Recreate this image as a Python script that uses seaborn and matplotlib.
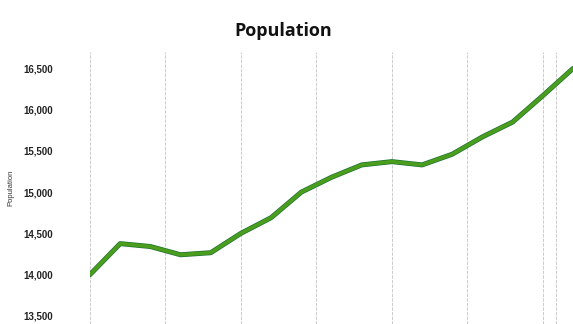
import numpy as np
import pandas as pd
import seaborn as sns
import matplotlib
matplotlib.use("Agg")
import matplotlib.pyplot as plt
import matplotlib.patheffects as pe

# Data
steps = list(range(17))
population = [14000, 14375, 14340, 14240, 14265, 14500, 14690, 15000, 15180,
              15330, 15370, 15330, 15460, 15670, 15850, 16170, 16500]
y_ticks = [13500, 14000, 14500, 15000, 15500, 16000, 16500]
grid_x = [0, 2.5, 5, 7.5, 10, 12.5, 15, 15.45]

df = pd.DataFrame({"step": steps, "Population": population})

sns.set_theme(style="white")
plt.rcParams['font.family'] = ['Liberation Sans', 'DejaVu Sans']

fig = plt.figure(figsize=(5.73, 3.24), dpi=100)
ax = fig.add_axes([90/573, 0.0, (573-90)/573, (324-52)/324])

for gx in grid_x:
    ax.axvline(gx, color='#c4c4c4', lw=0.6, ls=(0, (4, 1.5)), zorder=0)

sns.lineplot(data=df, x="step", y="Population", ax=ax, color='#4a9e1c', lw=2.6,
             path_effects=[pe.Stroke(linewidth=3.6, foreground='#1f7038'), pe.Normal()])

ax.set_xlim(0, 16)
ax.set_ylim(13400, 16700)
ax.set_yticks(y_ticks)
ax.set_yticklabels([f"{v:,}" for v in y_ticks], fontsize=7, fontweight='bold', color='#222222')
ax.tick_params(axis='y', pad=27, length=0)
ax.set_xticks([])
ax.set_xlabel("")
ax.set_ylabel("Population", fontsize=5.5, color='#333333', labelpad=6)
for s in ax.spines.values():
    s.set_visible(False)

fig.text(0.495, 0.905, "Population", ha='center', va='center', fontsize=13,
         fontweight='bold', family=['Open Sans', 'DejaVu Sans'], color='#111111')

fig.savefig("out.png", dpi=100)
